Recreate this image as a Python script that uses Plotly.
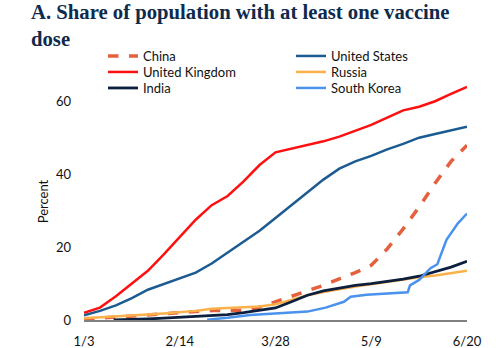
import plotly.graph_objects as go

weeks = ["2021-01-03","2021-01-10","2021-01-17","2021-01-24","2021-01-31","2021-02-07",
         "2021-02-14","2021-02-21","2021-02-28","2021-03-07","2021-03-14","2021-03-21",
         "2021-03-28","2021-04-04","2021-04-11","2021-04-18","2021-04-25","2021-05-02",
         "2021-05-09","2021-05-16","2021-05-23","2021-05-30","2021-06-06","2021-06-13","2021-06-20"]

china = [0.2,0.5,0.8,1.0,1.3,1.6,2.0,2.3,2.6,2.6,2.7,3.5,5.0,6.5,8.0,9.5,11.3,13.0,15.0,19.5,25.0,31.0,37.5,43.5,47.9]
uk    = [2.0,3.4,6.5,10.0,13.5,18.0,22.8,27.5,31.5,34.0,38.0,42.5,46.0,47.0,48.0,49.0,50.3,52.0,53.5,55.5,57.5,58.5,60.0,62.0,63.9]
us    = [1.3,2.5,4.0,6.0,8.3,9.8,11.4,13.0,15.5,18.5,21.5,24.5,28.0,31.5,35.0,38.5,41.5,43.5,45.0,46.8,48.3,50.0,51.0,52.0,53.0]
russia= [0.5,0.7,0.9,1.2,1.5,1.8,2.1,2.5,3.1,3.4,3.5,3.7,4.3,5.5,6.8,7.7,8.5,9.2,9.8,10.5,11.2,11.7,12.2,12.8,13.5]

india_dates = ["2021-01-16","2021-01-24","2021-01-31","2021-02-07","2021-02-14","2021-02-21",
               "2021-02-28","2021-03-07","2021-03-14","2021-03-21","2021-03-28","2021-04-04",
               "2021-04-11","2021-04-18","2021-04-25","2021-05-02","2021-05-09","2021-05-16",
               "2021-05-23","2021-05-30","2021-06-06","2021-06-13","2021-06-20"]
india = [0.0,0.1,0.3,0.5,0.7,0.9,1.1,1.5,2.0,2.6,3.3,5.0,6.8,8.0,8.8,9.5,10.0,10.5,11.2,12.0,13.2,14.5,16.1]

korea_dates = ["2021-02-26","2021-03-07","2021-03-17","2021-03-31","2021-04-11","2021-04-19",
               "2021-04-27","2021-04-30","2021-05-07","2021-05-25","2021-05-26","2021-05-30",
               "2021-06-04","2021-06-07","2021-06-11","2021-06-16","2021-06-20"]
korea = [0.1,0.6,1.4,1.9,2.3,3.4,5.0,6.4,6.9,7.6,9.5,11.0,14.2,15.3,22.0,26.5,29.2]

tick_vals = ["2021-01-03","2021-02-14","2021-03-28","2021-05-09","2021-06-20"]
tick_text = ["1/3","2/14","3/28","5/9","6/20"]
y_ticks = [0,20,40,60]

fig = go.Figure()
fig.add_trace(go.Scatter(x=weeks, y=china, name="China", mode="lines", legend="legend",
                         line=dict(color="#E4603E", width=3.5, dash="dash")))
fig.add_trace(go.Scatter(x=weeks, y=us, name="United States", mode="lines", legend="legend",
                         line=dict(color="#1C5B92", width=2.5)))
fig.add_trace(go.Scatter(x=weeks, y=uk, name="United Kingdom", mode="lines", legend="legend2",
                         line=dict(color="#FF1010", width=2.5)))
fig.add_trace(go.Scatter(x=weeks, y=russia, name="Russia", mode="lines", legend="legend2",
                         line=dict(color="#FBB04A", width=2.5)))
fig.add_trace(go.Scatter(x=india_dates, y=india, name="India", mode="lines", legend="legend3",
                         line=dict(color="#0C1F3E", width=2.8)))
fig.add_trace(go.Scatter(x=korea_dates, y=korea, name="South Korea", mode="lines", legend="legend3",
                         line=dict(color="#4A92EC", width=2.5)))

def leg(ypix):
    return dict(orientation="h", x=103/496, xanchor="left", xref="container",
                y=1 - ypix/348, yanchor="middle", yref="container",
                entrywidth=143, entrywidthmode="pixels", borderwidth=0,
                font=dict(family="Lato", size=13, color="#111111"),
                bgcolor="rgba(0,0,0,0)")

fig.update_layout(
    width=496, height=348,
    margin=dict(l=84, r=29, t=83, b=28, autoexpand=False),
    plot_bgcolor="white", paper_bgcolor="white",
    title=dict(text="A. Share of population with at least one vaccine<br>dose",
               font=dict(family="Liberation Serif", size=20.7, color="#0E2A4C", weight="bold"),
               x=31/496, xanchor="left", xref="container",
               y=1 - 19/348, yanchor="bottom", yref="container"),
    legend=leg(56), legend2=leg(72), legend3=leg(88),
    xaxis=dict(range=["2021-01-03","2021-06-20"], tickvals=tick_vals, ticktext=tick_text,
               showgrid=False, zeroline=False, showline=True, linecolor="#808080", linewidth=2,
               ticks="", ticklabelstandoff=8,
               tickfont=dict(family="Lato", size=13, color="#111111")),
    yaxis=dict(range=[0, 65], tickvals=y_ticks, showgrid=False, zeroline=False,
               showline=False, ticks="", ticklabelstandoff=12,
               tickfont=dict(family="Lato", size=13, color="#111111"),
               title=dict(text="Percent", font=dict(family="Lato", size=13, color="#111111"),
                          standoff=4)),
)
fig.write_html("out.html")
